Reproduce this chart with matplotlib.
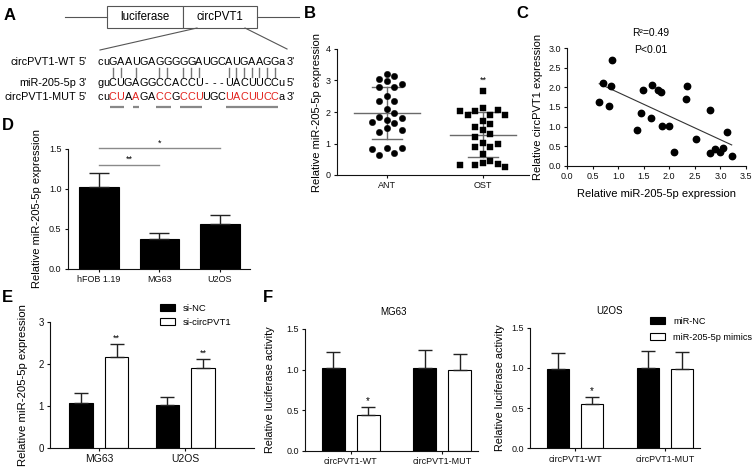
import numpy as np
import matplotlib
matplotlib.use('Agg')
import matplotlib.pyplot as plt
from matplotlib.patches import Rectangle
from matplotlib.textpath import TextToPath
from matplotlib.font_manager import FontProperties

plt.rcParams['font.family'] = ['Liberation Sans', 'DejaVu Sans']

W, H = 753, 467
fig = plt.figure(figsize=(W / 100, H / 100), dpi=100)

# ---------------- data ----------------
a_construct = ['luciferase', 'circPVT1']
a_row_labels = ['circPVT1-WT', 'miR-205-5p', 'circPVT1-MUT']
a_wt = 'cuGAAUGAGGGGGAUGCAUGAAGGa'
a_mir = 'guCUGAGGCCACCU---UACUUCCu'
a_mut = 'cuCUAAGACCGCCUUGCUACUUCCa'
a_ends = [("5'", "3'"), ("3'", "5'"), ("5'", "3'")]

b_groups = ['ANT', 'OST']
b_ant = [3.22, 2.97, 3.05, 3.13, 2.78, 2.78, 2.89, 2.52, 2.34, 2.34, 2.09, 1.98,
         1.85, 1.75, 1.65, 1.69, 1.82, 1.42, 1.37, 1.48, 0.87, 0.82, 0.63, 0.70, 0.85]
b_ost = [2.67, 2.06, 2.03, 1.92, 1.89, 1.92, 2.04, 2.12, 1.62, 1.70, 1.52, 1.43,
         1.22, 1.31, 0.88, 1.01, 0.99, 0.88, 0.67, 0.39, 0.31, 0.25, 0.31, 0.35, 0.46]
b_sig = '**'

c_mir = [0.875, 0.71, 0.855, 0.63, 0.83, 1.48, 1.67, 1.77, 1.83, 1.44, 1.65, 1.37, 1.85,
         1.99, 2.35, 2.33, 2.10, 2.52, 2.79, 2.79, 2.90, 2.99, 3.06, 3.13, 3.22]
c_circ = [2.69, 2.12, 2.04, 1.63, 1.53, 1.94, 2.06, 1.94, 1.89, 1.34, 1.21, 0.90, 1.02,
          1.02, 2.04, 1.71, 0.35, 0.67, 1.42, 0.33, 0.42, 0.36, 0.46, 0.87, 0.26]
c_stats = ['R\u00b2=0.49', 'P<0.01']

d_cells = ['hFOB 1.19', 'MG63', 'U2OS']
d_vals = [1.02, 0.37, 0.56]
d_err = [0.18, 0.08, 0.11]
d_sig = [(0, 1, '**', 1.30), (0, 2, '*', 1.51)]

e_cells = ['MG63', 'U2OS']
e_series = ['si-NC', 'si-circPVT1']
e_nc = [1.06, 1.02]
e_nc_err = [0.24, 0.19]
e_si = [2.17, 1.89]
e_si_err = [0.29, 0.22]
e_sig = ['**', '**']

f_reporters = ['circPVT1-WT', 'circPVT1-MUT']
f_series = ['miR-NC', 'miR-205-5p mimics']
f_mg63_nc = [1.02, 1.02]
f_mg63_nc_err = [0.20, 0.22]
f_mg63_mim = [0.44, 1.00]
f_mg63_mim_err = [0.10, 0.19]
f_u2os_nc = [0.99, 1.00]
f_u2os_nc_err = [0.19, 0.21]
f_u2os_mim = [0.55, 0.99]
f_u2os_mim_err = [0.09, 0.21]
f_sig = ['*', '']

# ---------------- helpers ----------------
def px_axes(x0, y0, x1, y1):
    return fig.add_axes([x0 / W, 1 - y1 / H, (x1 - x0) / W, (y1 - y0) / H])


def style(ax, fs=6.5):
    for s in ['top', 'right']:
        ax.spines[s].set_visible(False)
    for s in ['left', 'bottom']:
        ax.spines[s].set_linewidth(0.8)
        ax.spines[s].set_color('#111111')
    ax.tick_params(direction='out', length=2.5, width=0.8, labelsize=fs, pad=2,
                   colors='#111111')
    ax.patch.set_alpha(0)


# overlay axes in pixel coords
ov = fig.add_axes([0, 0, 1, 1])
ov.set_xlim(0, W)
ov.set_ylim(H, 0)
ov.axis('off')

# panel letters
for lab, (x, y) in zip('ABCDEF', [(10, 15), (310, 13), (522, 13), (7.5, 125), (7.5, 298), (267.5, 298)]):
    ov.text(x, y, lab, fontsize=12, fontweight='bold', ha='center', va='center')

# ---------------- Panel A ----------------
gray = '#555555'
ov.plot([65, 107], [17, 17], color=gray, lw=0.8)
ov.plot([257, 299], [17, 17], color=gray, lw=0.8)
box_x = [107, 183]
box_w = [76, 74]
for bx, bw, name in zip(box_x, box_w, a_construct):
    ov.add_patch(Rectangle((bx, 6), bw, 22, facecolor='white', edgecolor=gray, lw=0.8))
    ov.text(bx + bw / 2, 17.5, name, fontsize=8.3, ha='center', va='center')
ov.plot([197, 100], [28, 50], color=gray, lw=0.8)
ov.plot([245, 287], [28, 49], color=gray, lw=0.8)

seq_fs = 7.8
row_y = [62, 83, 97]
ttp = TextToPath()
fp = FontProperties(family='Liberation Sans', size=seq_fs)


def adv(ch):
    return ttp.get_text_width_height_descent(ch, fp, ismath=False)[0] * 100 / 72


seqs = [a_wt, a_mir, a_mut]
col_w = np.array([max(adv(s[i]) for s in seqs) for i in range(len(a_wt))])
x_left, x_right = 97.5, 284.5
col_w = col_w * (x_right - x_left) / col_w.sum()
col_c = x_left + np.cumsum(col_w) - col_w / 2

red = '#e3241f'
pairs = {('G', 'C'), ('C', 'G'), ('A', 'U'), ('U', 'A')}
for r, (lab, seq, ends, y) in enumerate(zip(a_row_labels, seqs, a_ends, row_y)):
    ov.text(76, y, lab, fontsize=seq_fs, ha='right', va='center')
    ov.text(79, y, ends[0], fontsize=seq_fs, ha='left', va='center')
    for i, ch in enumerate(seq):
        col = 'black'
        if r == 2 and ch.isupper() and ch != a_wt[i]:
            col = red
        ov.text(col_c[i], y, ch, fontsize=seq_fs, ha='center', va='center', color=col)
    ov.text(x_right + 2, y, ends[1], fontsize=seq_fs, ha='left', va='center')

# base pairing bars
for i, (w, m) in enumerate(zip(a_wt, a_mir)):
    if w.isupper() and m.isupper() and (w, m) in pairs:
        ov.plot([col_c[i], col_c[i]], [68, 77], color='#777777', lw=1.0)

# underline mutated runs
mut_idx = [i for i, (w, m) in enumerate(zip(a_wt, a_mut)) if m.isupper() and m != w]
runs = []
for i in mut_idx:
    if runs and i == runs[-1][1] + 1:
        runs[-1][1] = i
    else:
        runs.append([i, i])
for s, e in runs:
    ov.plot([col_c[s] - col_w[s] * 0.42, col_c[e] + col_w[e] * 0.42], [106.5, 106.5],
            color='#888888', lw=1.6, solid_capstyle='butt')

# ---------------- Panel B ----------------
axB = px_axes(337, 49, 529, 175)
axB.set_xlim(-0.52, 1.48)
axB.set_ylim(0, 4)
style(axB)


def swarm_x(ax, xc, vals, step_px=7.5, min_d=7.8):
    vals = np.asarray(vals, dtype=float)
    tr = ax.transData
    ypx = tr.transform(np.column_stack([np.full(len(vals), xc), vals]))[:, 1]
    ppu = tr.transform([[1, 0]])[0, 0] - tr.transform([[0, 0]])[0, 0]
    order = np.argsort(-vals, kind='stable')
    placed = []
    cols = np.zeros(len(vals))
    for idx in order:
        chosen = 0
        for k in [0, 1, -1, 2, -2, 3, -3, 4, -4]:
            ok = all(((k - c) * step_px) ** 2 + (ypx[idx] - yp) ** 2 >= min_d ** 2 for c, yp in placed)
            if ok:
                chosen = k
                break
        placed.append((chosen, ypx[idx]))
        cols[idx] = chosen
    return xc + cols * step_px / ppu


for gi, (vals, mk) in enumerate([(b_ant, 'o'), (b_ost, 's')]):
    v = np.asarray(vals)
    m, sd = v.mean(), v.std(ddof=1)
    lc = '#6a6a6a'
    axB.plot([gi - 0.34, gi + 0.34], [m, m], color=lc, lw=1.0, zorder=1)
    axB.plot([gi - 0.16, gi + 0.16], [m + sd, m + sd], color=lc, lw=1.0, zorder=1)
    axB.plot([gi - 0.16, gi + 0.16], [m - sd, m - sd], color=lc, lw=1.0, zorder=1)
    axB.plot([gi, gi], [m - sd, m + sd], color=lc, lw=1.0, zorder=1)
    xs = swarm_x(axB, gi, v)
    axB.plot(xs, v, mk, color='black', ms=4.6 if mk == 'o' else 4.2, mec='black', mew=0.3,
             zorder=2, clip_on=False)
axB.text(1, max(b_ost) + 0.2, b_sig, fontsize=6.5, ha='center', va='bottom')
axB.set_xticks([0, 1])
axB.set_xticklabels(b_groups)
axB.set_yticks([0, 1, 2, 3, 4])
axB.set_ylabel('Relative miR-205-5p expression', fontsize=8)
axB.yaxis.set_label_coords(-0.08, 0.5)

# ---------------- Panel C ----------------
axC = px_axes(567, 48.3, 746, 165.7)
axC.set_xlim(0, 3.5)
axC.set_ylim(0, 3.0)
style(axC)
axC.plot(c_mir, c_circ, 'o', color='black', ms=4.6, clip_on=False, zorder=3)
cx = np.asarray(c_mir)
cy = np.asarray(c_circ)
k, b0 = np.polyfit(cx, cy, 1)
xl = np.array([cx.min(), cx.max()])
axC.plot(xl, k * xl + b0, color='#333333', lw=0.8, zorder=2)
axC.text(1.63, 3.39, c_stats[0], fontsize=7.5, ha='center', va='center', clip_on=False)
axC.text(1.63, 2.96, c_stats[1], fontsize=7.5, ha='center', va='center', clip_on=False)
axC.set_xticks(np.arange(0, 3.51, 0.5))
axC.set_yticks(np.arange(0, 3.01, 0.5))
axC.xaxis.set_major_formatter(matplotlib.ticker.FormatStrFormatter('%.1f'))
axC.yaxis.set_major_formatter(matplotlib.ticker.FormatStrFormatter('%.1f'))
axC.set_ylabel('Relative circPVT1 expression', fontsize=8)
axC.yaxis.set_label_coords(-0.136, 0.5)
axC.set_xlabel('Relative miR-205-5p expression', fontsize=8)
axC.xaxis.set_label_coords(0.5, -0.2)

# ---------------- Panel D ----------------
axD = px_axes(67.7, 149, 250, 269)
axD.set_xlim(-0.52, 2.5)
axD.set_ylim(0, 1.5)
style(axD)
xd = np.arange(len(d_cells))
axD.bar(xd, d_vals, width=0.66, color='black', edgecolor='black', lw=0.8)
axD.errorbar(xd, d_vals, yerr=[np.zeros(len(d_vals)), d_err], fmt='none', ecolor='#222222',
             elinewidth=1.0, capsize=7.5, capthick=1.0)
for i0, i1, s, yy in d_sig:
    axD.plot([i0, i1], [yy, yy], color='#8a8a8a', lw=1.0, clip_on=False)
    axD.text((i0 + i1) / 2, yy + 0.01, s, fontsize=6.5, ha='center', va='bottom')
axD.set_xticks(xd)
axD.set_xticklabels(d_cells)
axD.set_yticks([0, 0.5, 1.0, 1.5])
axD.yaxis.set_major_formatter(matplotlib.ticker.FormatStrFormatter('%.1f'))
axD.set_ylabel('Relative miR-205-5p expression', fontsize=8)
axD.yaxis.set_label_coords(-0.143, 0.5)

# ---------------- Panel E ----------------
axE = px_axes(50, 321.7, 254, 447.7)
axE.set_xlim(-0.567, 1.8)
axE.set_ylim(0, 3)
style(axE, 7)
xe = np.arange(len(e_cells))
off, bw = 0.207, 0.27
axE.bar(xe - off, e_nc, width=bw, color='black', edgecolor='black', lw=0.8, label=e_series[0])
axE.bar(xe + off, e_si, width=bw, color='white', edgecolor='black', lw=0.8, label=e_series[1])
axE.errorbar(xe - off, e_nc, yerr=[np.zeros(2), e_nc_err], fmt='none', ecolor='#222222',
             elinewidth=1.0, capsize=5, capthick=1.0)
axE.errorbar(xe + off, e_si, yerr=[np.zeros(2), e_si_err], fmt='none', ecolor='#222222',
             elinewidth=1.0, capsize=5, capthick=1.0)
for i, s in enumerate(e_sig):
    axE.text(xe[i] + off, e_si[i] + e_si_err[i] + 0.04, s, fontsize=6.5, ha='center', va='bottom')
axE.set_xticks(xe)
axE.set_xticklabels(e_cells, fontsize=7.5)
axE.set_yticks([0, 1, 2, 3])
axE.set_ylabel('Relative miR-205-5p expression', fontsize=8.2)
axE.yaxis.set_label_coords(-0.107, 0.5)
axE.legend(loc='upper left', bbox_to_anchor=(0.537, 1.14), frameon=False, fontsize=6.8,
           handlelength=1.6, handleheight=0.7, handletextpad=0.8, labelspacing=0.5,
           borderpad=0, borderaxespad=0)

# ---------------- Panel F ----------------
def f_panel(box, title, title_x, nc, nc_err, mim, mim_err, sig, legend=False):
    ax = px_axes(*box)
    ax.set_xlim(-0.5, 1.39)
    ax.set_ylim(0, 1.5)
    style(ax)
    xf = np.arange(len(f_reporters))
    o, w = 0.19, 0.25
    ax.bar(xf - o, nc, width=w, color='black', edgecolor='black', lw=0.8, label=f_series[0])
    ax.bar(xf + o, mim, width=w, color='white', edgecolor='black', lw=0.8, label=f_series[1])
    ax.errorbar(xf - o, nc, yerr=[np.zeros(2), nc_err], fmt='none', ecolor='#222222',
                elinewidth=1.0, capsize=4.8, capthick=1.0)
    ax.errorbar(xf + o, mim, yerr=[np.zeros(2), mim_err], fmt='none', ecolor='#222222',
                elinewidth=1.0, capsize=4.8, capthick=1.0)
    for i, s in enumerate(sig):
        if s:
            ax.text(xf[i] + o, mim[i] + mim_err[i] + 0.01, s, fontsize=7, ha='center', va='bottom')
    ax.set_xticks(xf)
    ax.set_xticklabels(f_reporters)
    ax.set_yticks([0, 0.5, 1.0, 1.5])
    ax.yaxis.set_major_formatter(matplotlib.ticker.FormatStrFormatter('%.1f'))
    ax.set_ylabel('Relative luciferase activity', fontsize=7.8)
    ax.text(title_x, 1.14, title, transform=ax.transAxes, fontsize=7, ha='center', va='center')
    if legend:
        ax.legend(loc='upper left', bbox_to_anchor=(0.706, 1.09), frameon=False, fontsize=6.6,
                  handlelength=1.6, handleheight=0.7, handletextpad=0.9, labelspacing=0.75,
                  borderpad=0, borderaxespad=0)
    return ax


axF1 = f_panel((305, 329, 478, 450.7), 'MG63', 0.51, f_mg63_nc, f_mg63_nc_err,
               f_mg63_mim, f_mg63_mim_err, f_sig)
axF1.yaxis.set_label_coords(-0.173, 0.5)
axF2 = f_panel((530, 327.7, 700, 448.3), 'U2OS', 0.47, f_u2os_nc, f_u2os_nc_err,
               f_u2os_mim, f_u2os_mim_err, f_sig, legend=True)
axF2.yaxis.set_label_coords(-0.147, 0.5)

fig.savefig('out.png', dpi=100)
